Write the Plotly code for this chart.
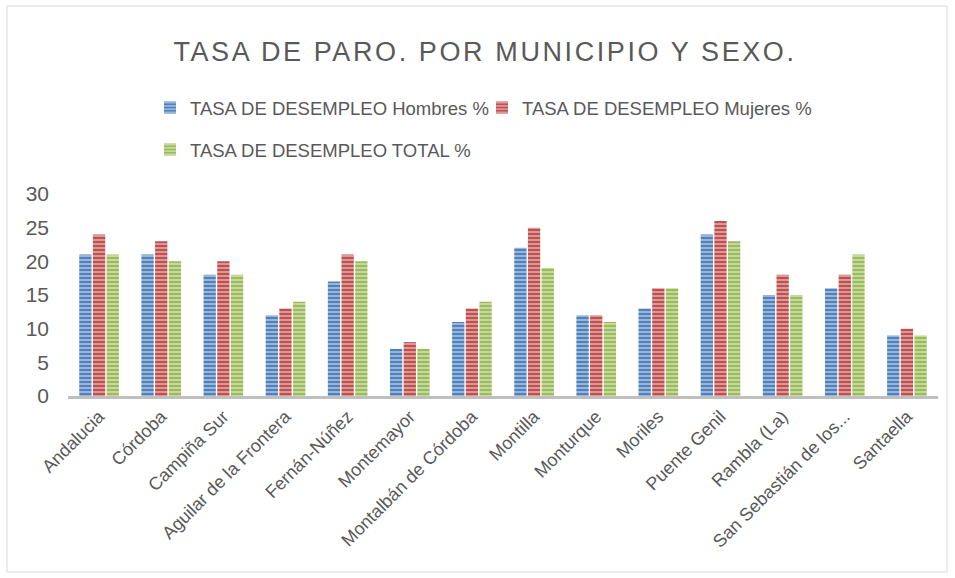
import plotly.graph_objects as go

categories = ["Andalucia", "Córdoba", "Campiña Sur", "Aguilar de la Frontera", "Fernán-Núñez",
              "Montemayor", "Montalbán de Córdoba", "Montilla", "Monturque", "Moriles",
              "Puente Genil", "Rambla (La)", "San Sebastián de los...", "Santaella"]
hombres = [21, 21, 18, 12, 17, 7, 11, 22, 12, 13, 24, 15, 16, 9]
mujeres = [24, 23, 20, 13, 21, 8, 13, 25, 12, 16, 26, 18, 18, 10]
total = [21, 20, 18, 14, 20, 7, 14, 19, 11, 16, 23, 15, 21, 9]
series_names = ["TASA DE DESEMPLEO Hombres %", "TASA DE DESEMPLEO Mujeres %", "TASA DE DESEMPLEO TOTAL %"]
colors = ["#4f81bd", "#c0504d", "#9bbb59"]
yticks = [0, 5, 10, 15, 20, 25, 30]

FONT = "Liberation Sans, Arial, sans-serif"
GRAY = "#595959"

legend_ids = ["legend", "legend2", "legend3"]

fig = go.Figure()
for name, vals, c, lg in zip(series_names, [hombres, mujeres, total], colors, legend_ids):
    fig.add_trace(go.Bar(
        x=categories, y=vals, name=name, legend=lg, showlegend=True,
        marker=dict(color=c, line=dict(width=0),
                    pattern=dict(shape="-", fgcolor="rgba(255,255,255,0.6)", bgcolor=c,
                                 size=4, solidity=0.35, fillmode="replace")),
    ))

legend_common = dict(orientation="h", xanchor="left", yanchor="middle", yref="container",
                     font=dict(family=FONT, size=18.5, color=GRAY), itemwidth=30,
                     bgcolor="rgba(0,0,0,0)")

fig.update_layout(
    width=955, height=578, showlegend=True,
    paper_bgcolor="white", plot_bgcolor="white",
    margin=dict(l=68, r=17, t=194, b=182),
    barmode="group", bargap=0.34, bargroupgap=0.1,
    title=dict(text="TASA DE PARO. POR MUNICIPIO Y SEXO.", xref="container", x=485/955,
               xanchor="center", y=1 - 52/578, yanchor="middle",
               font=dict(family=FONT, size=27, color=GRAY)),
    legend=dict(x=(150-68)/870, y=1 - 108/578, **legend_common),
    legend2=dict(x=(482-68)/870, y=1 - 108/578, **legend_common),
    legend3=dict(x=(150-68)/870, y=1 - 150/578, **legend_common),
    font=dict(family=FONT, color=GRAY),
    xaxis=dict(tickangle=-45, tickfont=dict(family=FONT, size=18, color=GRAY),
               showline=True, linecolor="#bfbfbf", linewidth=3, ticks="", showgrid=False),
    yaxis=dict(range=[0, 30], tickvals=yticks, showgrid=False, zeroline=False, showline=False,
               tickfont=dict(family=FONT, size=21, color=GRAY), ticks="", ticklabelstandoff=18),
    shapes=[dict(type="rect", xref="paper", yref="paper",
                 x0=(7-68)/870, x1=(947-68)/870, y0=(396-572)/202, y1=(396-6)/202,
                 line=dict(color="#d9d9d9", width=1), layer="below")],
)

post = """
document.body.style.margin = '0';
var t = document.querySelector('.gtitle');
if (t) { t.style.letterSpacing = '2.6px'; }
"""
fig.write_html("out.html", post_script=post, config={"displayModeBar": False})
